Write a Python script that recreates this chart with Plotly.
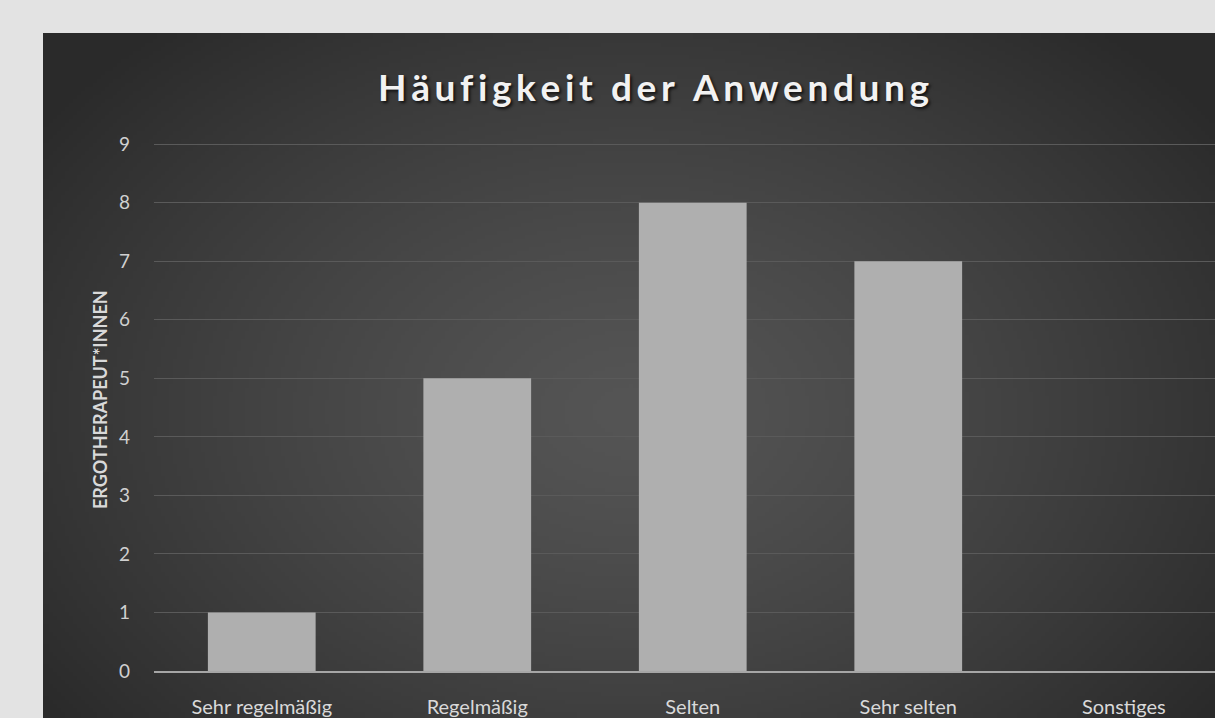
import base64, struct, zlib
import numpy as np
import plotly.graph_objects as go

categories = ["Sehr regelmäßig", "Regelmäßig", "Selten", "Sehr selten", "Sonstiges"]
values = [1, 5, 8, 7, 0]
y_ticks = [0, 1, 2, 3, 4, 5, 6, 7, 8, 9]
title_text = "Häufigkeit der Anwendung"
y_title = "ERGOTHERAPEUT*INNEN"

W, H = 1215, 718

# radial gradient background as PNG
def make_png(w, h):
    yy, xx = np.mgrid[0:h, 0:w].astype(float)
    cx, cy = w * 0.5, h * 0.55
    d = np.sqrt(((xx - cx) / (w * 0.62)) ** 2 + ((yy - cy) / (h * 0.75)) ** 2)
    d = np.clip(d, 0, 1)
    v = 0x55 - (0x55 - 0x2a) * d ** 1.3
    v = v.astype(np.uint8)
    raw = b"".join(b"\x00" + bytes(np.repeat(row, 3)) for row in v)
    def chunk(t, data):
        c = struct.pack(">I", len(data)) + t + data
        return c + struct.pack(">I", zlib.crc32(t + data) & 0xffffffff)
    png = b"\x89PNG\r\n\x1a\n" + chunk(b"IHDR", struct.pack(">IIBBBBB", w, h, 8, 2, 0, 0, 0))
    png += chunk(b"IDAT", zlib.compress(raw, 9)) + chunk(b"IEND", b"")
    return "data:image/png;base64," + base64.b64encode(png).decode()

bg_src = make_png(293, 171)

def spaced(s, sep="\u2009"):
    return sep.join(s)

left, top = 43, 33
plot_l, plot_t, plot_b = 154, 143, 671
ph = plot_b - plot_t
pw = W - plot_l
cat_w = 215.5
x_hi = -0.5 + pw / cat_w
FONT = "Lato, Open Sans, sans-serif"

fig = go.Figure()
fig.add_trace(go.Bar(
    x=categories, y=values, width=0.5,
    marker=dict(color="#afafaf", line=dict(width=0)),
))

fig.update_layout(
    width=W, height=H,
    paper_bgcolor="#e3e3e3",
    plot_bgcolor="rgba(0,0,0,0)",
    margin=dict(l=plot_l, r=0, t=plot_t, b=H - plot_b, pad=0),
    showlegend=False,
    images=[dict(source=bg_src, xref="paper", yref="paper",
                 x=(left - plot_l) / pw, y=1 + (plot_t - top) / ph,
                 sizex=(W - left) / pw, sizey=(H - top) / ph,
                 xanchor="left", yanchor="top", sizing="stretch", layer="below")],
    xaxis=dict(
        type="category", range=[-0.5, x_hi], showgrid=False,
        showline=True, linecolor="#a6a6a6", linewidth=2,
        tickfont=dict(family=FONT, size=20, color="#d9d9d9"),
        ticks="", ticklabelstandoff=17, zeroline=False,
    ),
    yaxis=dict(
        range=[0, 9.02], tickvals=y_ticks, showgrid=True, gridcolor="#5a5a5a", gridwidth=1,
        zeroline=False, showline=False,
        tickfont=dict(family=FONT, size=19, color="#d0d0d0"),
        ticks="", ticklabelstandoff=23,
    ),
)

# title with shadow
title_x = (653 - plot_l) / pw
title_y = 1 + (plot_t - 86) / ph
fig.add_annotation(text=f"<b>{spaced(title_text)}</b>", xref="paper", yref="paper",
                   x=title_x, y=title_y, showarrow=False, xanchor="center", yanchor="middle",
                   font=dict(family=FONT, size=37, color="#f2f2f2",
                             shadow="2px 2px 3px rgba(0,0,0,0.7)"))

# y-axis title
fig.add_annotation(text=f"<b>{y_title}</b>", xref="paper", yref="paper",
                   x=(100 - plot_l) / pw, y=(plot_b - 400) / ph,
                   showarrow=False, textangle=-90, xanchor="center", yanchor="middle",
                   font=dict(family=FONT, size=18, color="#d9d9d9"))

fig.write_html("out.html", config={"displayModeBar": False},
               post_script="document.body.style.margin='0';")
